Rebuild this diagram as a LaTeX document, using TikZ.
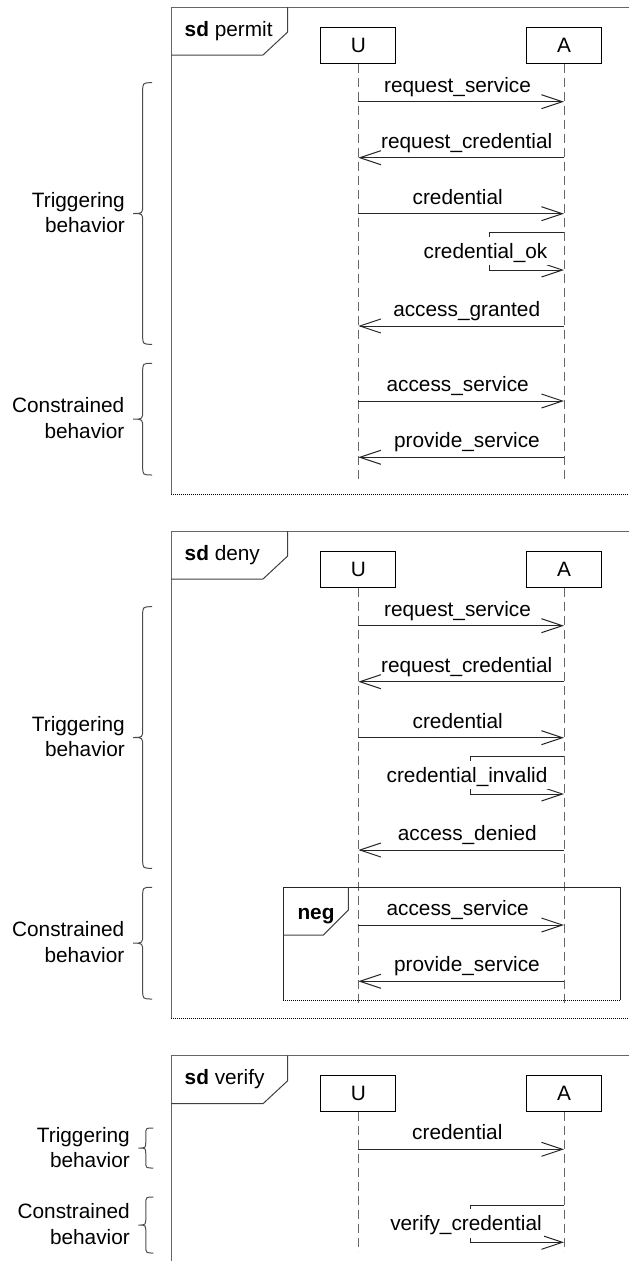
\documentclass[tikz,border=0pt]{standalone}
\usepackage{fontspec}
\setmainfont{Liberation Sans}
\usetikzlibrary{arrows.meta}
\tikzset{
  diagfont/.style={font=\fontsize{20.8}{25}\selectfont},
  framebd/.style={draw=black!60, line width=1pt},
  tagbd/.style={draw=black!75, line width=1pt},
  negbd/.style={draw=black!85, line width=1pt},
  cutedge/.style={draw=black, line width=1pt, dash pattern=on 1pt off 1pt},
  lifebox/.style={draw=black, line width=1pt, fill=white, minimum width=75pt, minimum height=36pt, inner sep=0pt},
  lifeline/.style={draw=black!60, line width=1pt, dash pattern=on 9pt off 5pt},
  msg/.style={draw=black!85, line width=1pt, -{Straight Barb[length=21pt,width=14pt]}},
  msglabel/.style={anchor=base, inner sep=0pt},
  selflabel/.style={anchor=base, fill=white, text height=18.5pt, text depth=4pt, inner xsep=2pt, inner ysep=3pt},
  tagtext/.style={anchor=base west, inner sep=0pt},
  bracebd/.style={draw=black!70, line width=1pt},
  bracetext/.style={anchor=base east, inner sep=0pt},
}
\begin{document}
\begin{tikzpicture}[x=1pt, y=-1pt, every node/.style={diagfont}]
\path[use as bounding box] (0,0) rectangle (629,1261);
\clip (0,0) rectangle (629,1261);

% ================= sd permit =================
\begin{scope}
  \draw[framebd] (640,7) -- (171,7) -- (171,494);
  \draw[cutedge] (171,494) -- (640,494);
  \draw[tagbd] (287.7,7) -- (287.7,32) -- (263,55) -- (171,55);
  \node[tagtext] (tag1) at (184.5,36) {\textbf{sd} permit};
  \node[lifebox] (U1) at (358.3,45) {U};
  \node[lifebox] (A1) at (564,45) {A};
  \coordinate (end1) at (0,483);
  \draw[lifeline] (U1.south) -- (U1.south |- end1);
  \draw[lifeline] (A1.south) -- (A1.south |- end1);
  \coordinate (p1a) at (0,101.7);
  \coordinate (p1b) at (0,157.7);
  \coordinate (p1c) at (0,213.7);
  \coordinate (s1t) at (489.3,232.3);
  \coordinate (s1b) at (489.3,270);
  \coordinate (p1e) at (0,326);
  \coordinate (p1f) at (0,401);
  \coordinate (p1g) at (0,457.3);
  \draw[msg] (U1 |- p1a) -- (A1 |- p1a);
  \node[msglabel] (q1a) at (457.5,92.2) {request\_service};
  \draw[msg] (A1 |- p1b) -- (U1 |- p1b);
  \node[msglabel] (q1b) at (466.7,148.2) {request\_credential};
  \draw[msg] (U1 |- p1c) -- (A1 |- p1c);
  \node[msglabel] (q1c) at (457.7,204.2) {credential};
  \draw[msg] (A1 |- s1t) -- (s1t) -- (s1b) -- (A1 |- s1b);
  \node[selflabel] (q1d) at (485.5,258.2) {credential\_ok};
  \draw[msg] (A1 |- p1e) -- (U1 |- p1e);
  \node[msglabel] (q1e) at (466.7,316.5) {access\_granted};
  \draw[msg] (U1 |- p1f) -- (A1 |- p1f);
  \node[msglabel] (q1f) at (457.7,391.5) {access\_service};
  \draw[msg] (A1 |- p1g) -- (U1 |- p1g);
  \node[msglabel] (q1g) at (467,447.8) {provide\_service};
\end{scope}

% ================= sd deny =================
\begin{scope}[yshift=-524pt]
  \draw[framebd] (640,7) -- (171,7) -- (171,494);
  \draw[cutedge] (171,494) -- (640,494);
  \draw[tagbd] (287.7,7) -- (287.7,32) -- (263,55) -- (171,55);
  \node[tagtext] (tag2) at (184.5,36) {\textbf{sd} deny};
  \node[lifebox] (U2) at (358.3,45) {U};
  \node[lifebox] (A2) at (564,45) {A};
  \coordinate (end2) at (0,483);
  \draw[lifeline] (U2.south) -- (U2.south |- end2);
  \draw[lifeline] (A2.south) -- (A2.south |- end2);
  % negative fragment
  \draw[negbd] (283.3,476) -- (283.3,363.3) -- (620,363.3) -- (620,476);
  \draw[cutedge] (283.3,476) -- (620,476);
  \draw[tagbd] (348.3,363.3) -- (348.3,386) -- (323.3,411) -- (283.3,411);
  \node[tagtext] (negtag) at (297.3,395.3) {\textbf{neg}};
  \coordinate (p2a) at (0,101.7);
  \coordinate (p2b) at (0,157.7);
  \coordinate (p2c) at (0,213.7);
  \coordinate (s2t) at (470.7,232.3);
  \coordinate (s2b) at (470.7,270);
  \coordinate (p2e) at (0,326);
  \coordinate (p2f) at (0,401);
  \coordinate (p2g) at (0,457.3);
  \draw[msg] (U2 |- p2a) -- (A2 |- p2a);
  \node[msglabel] (q2a) at (457.5,92.2) {request\_service};
  \draw[msg] (A2 |- p2b) -- (U2 |- p2b);
  \node[msglabel] (q2b) at (466.7,148.2) {request\_credential};
  \draw[msg] (U2 |- p2c) -- (A2 |- p2c);
  \node[msglabel] (q2c) at (457.7,204.2) {credential};
  \draw[msg] (A2 |- s2t) -- (s2t) -- (s2b) -- (A2 |- s2b);
  \node[selflabel] (q2d) at (467,258.2) {credential\_invalid};
  \draw[msg] (A2 |- p2e) -- (U2 |- p2e);
  \node[msglabel] (q2e) at (467.3,316.5) {access\_denied};
  \draw[msg] (U2 |- p2f) -- (A2 |- p2f);
  \node[msglabel] (q2f) at (457.7,391.5) {access\_service};
  \draw[msg] (A2 |- p2g) -- (U2 |- p2g);
  \node[msglabel] (q2g) at (467,447.8) {provide\_service};
\end{scope}

% ================= sd verify =================
\begin{scope}[yshift=-1048.7pt]
  \draw[framebd] (640,7) -- (171,7) -- (171,215);
  \draw[tagbd] (287.7,7) -- (287.7,32) -- (263,55) -- (171,55);
  \node[tagtext] (tag3) at (184.5,36) {\textbf{sd} verify};
  \node[lifebox] (U3) at (358.3,45) {U};
  \node[lifebox] (A3) at (564,45) {A};
  \coordinate (end3) at (0,203.5);
  \draw[lifeline] (U3.south) -- (U3.south |- end3);
  \draw[lifeline] (A3.south) -- (A3.south |- end3);
  \coordinate (p3a) at (0,100.6);
  \coordinate (s3t) at (470.7,156.3);
  \coordinate (s3b) at (470.7,193.6);
  \draw[msg] (U3 |- p3a) -- (A3 |- p3a);
  \node[msglabel] (q3a) at (457.3,91.1) {credential};
  \draw[msg] (A3 |- s3t) -- (s3t) -- (s3b) -- (A3 |- s3b);
  \node[selflabel] (q3b) at (466,182) {verify\_credential};
\end{scope}

% ================= braces =================
\foreach \ya/\yb/\xv/\w/\r in {82.7/344.3/142.7/9.5/9, 363.3/475/142.7/9.5/9,
    606.7/868.3/142.7/9.5/9, 887.3/999/142.7/9.5/9,
    1128/1168/145.8/7.5/6.5, 1197/1253/145.8/7.5/7.5}{
  \pgfmathsetmacro\ym{(\ya+\yb)/2}
  \draw[bracebd] (\xv+\w,\ya) .. controls (\xv,\ya) .. (\xv,\ya+\r)
    -- (\xv,\ym-\r) .. controls (\xv,\ym) .. (\xv-\w,\ym)
    .. controls (\xv,\ym) .. (\xv,\ym+\r)
    -- (\xv,\yb-\r) .. controls (\xv,\yb) .. (\xv+\w,\yb);
}

\node[bracetext] (b1t) at (125,207) {Triggering};
\node[bracetext] (b1u) at (125,232.5) {behavior};
\node[bracetext] (b1c) at (124.5,412.7) {Constrained};
\node[bracetext] (b1d) at (124.5,438.2) {behavior};
\node[bracetext] (b2t) at (125,731) {Triggering};
\node[bracetext] (b2u) at (125,756.5) {behavior};
\node[bracetext] (b2c) at (124.5,936.7) {Constrained};
\node[bracetext] (b2d) at (124.5,962.2) {behavior};
\node[bracetext] (b3t) at (130,1142.5) {Triggering};
\node[bracetext] (b3u) at (130,1167.5) {behavior};
\node[bracetext] (b3c) at (130,1218.5) {Constrained};
\node[bracetext] (b3d) at (130,1244) {behavior};
\end{tikzpicture}
\end{document}
